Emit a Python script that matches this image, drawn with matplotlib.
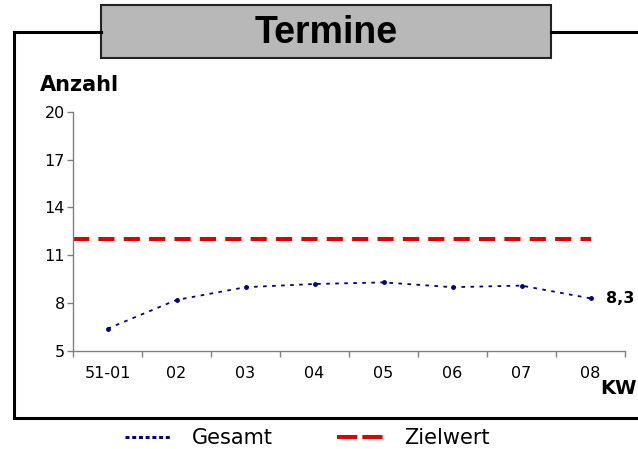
import matplotlib
matplotlib.use("Agg")
import matplotlib.pyplot as plt
from matplotlib.lines import Line2D
from matplotlib.patches import Rectangle
import numpy as np

# Werte je Kalenderwoche
kw_labels = ["51-01", "02", "03", "04", "05", "06", "07", "08"]
gesamt = [6.4, 8.2, 9.0, 9.2, 9.3, 9.0, 9.1, 8.3]
zielwert = 12
y_ticks = [5, 8, 11, 14, 17, 20]

BLAU = "#000080"
ROT = "#DD0000"

W, H = 638, 449
fig = plt.figure(figsize=(W / 100, H / 100), dpi=100)

def fx(px):
    return px / W

def fy(py):
    return 1 - py / H

ax = fig.add_axes([fx(73), fy(351), fx(625) - fx(73), fy(111.7) - fy(351)])

x = np.arange(len(kw_labels))
ax.plot(x, gesamt, color=BLAU, lw=1.3, ls=(0, (2, 3)),
        marker="o", markersize=3.5, markeredgewidth=0)
ax.hlines(zielwert, -0.5, len(kw_labels) - 1, color=ROT, lw=2.9,
          linestyles=[(0, (4, 2.3))])

# Wertbeschriftung am letzten Punkt
ax.text(x[-1] + 0.22, gesamt[-1], f"{gesamt[-1]:.1f}".replace(".", ","),
        fontsize=11.5, fontweight="bold", va="center", ha="left", clip_on=False)

ax.set_xlim(-0.5, len(kw_labels) - 0.5)
ax.set_ylim(y_ticks[0], y_ticks[-1])
ax.set_yticks(y_ticks)
ax.set_xticks(np.arange(len(kw_labels) + 1) - 0.5)
ax.set_xticklabels([])
ax.set_xticks(x, minor=True)
ax.set_xticklabels(kw_labels, minor=True)
ax.tick_params(axis="x", which="major", length=4, width=1, color="#808080")
ax.tick_params(axis="x", which="minor", length=0, pad=11, labelsize=11.5)
ax.tick_params(axis="y", length=4, width=1, color="#808080", labelsize=11.5, pad=2)

for s in ["top", "right"]:
    ax.spines[s].set_visible(False)
for s in ["left", "bottom"]:
    ax.spines[s].set_color("#808080")
    ax.spines[s].set_linewidth(1)

fig.text(fx(637), fy(389), "KW", fontsize=14, fontweight="bold",
         ha="right", va="center")
fig.text(fx(40), fy(85), "Anzahl", fontsize=15, fontweight="bold",
         ha="left", va="center")

# Rahmen um das Diagramm
rahmen = dict(color="black", lw=2.2, transform=fig.transFigure, solid_capstyle="projecting")
fig.add_artist(Line2D([fx(13.5), fx(13.5)], [fy(32), fy(418)], **rahmen))
fig.add_artist(Line2D([fx(13.5), fx(W)], [fy(418), fy(418)], **rahmen))
fig.add_artist(Line2D([fx(13.5), fx(101)], [fy(32), fy(32)], **rahmen))
fig.add_artist(Line2D([fx(551), fx(W)], [fy(32), fy(32)], **rahmen))

# Titelfeld
fig.add_artist(Rectangle((fx(101), fy(58)), fx(551) - fx(101), fy(5) - fy(58),
                         transform=fig.transFigure, facecolor="#B8B8B8",
                         edgecolor="#222222", lw=1.5))
fig.text(fx(326), fy(33), "Termine", fontsize=27, fontweight="bold",
         family="Liberation Sans", ha="center", va="center")

# Legende
handles = [
    Line2D([], [], color=BLAU, lw=2.2, ls=(0, (1.3, 0.9))),
    Line2D([], [], color=ROT, lw=2.9, ls=(0, (5, 1.3))),
]
fig.legend(handles, ["Gesamt", "Zielwert"], loc="center",
           bbox_to_anchor=(fx(307), fy(438)), ncol=2, frameon=False,
           fontsize=15, handlelength=2.25, handletextpad=0.95, columnspacing=3.1)

fig.savefig("out.png", dpi=100)
